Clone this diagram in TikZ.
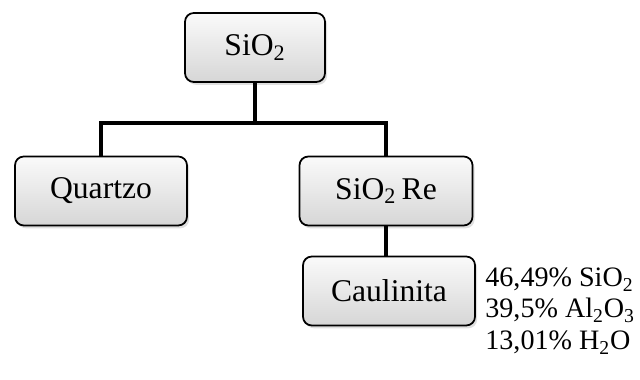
\documentclass[tikz,border=0pt]{standalone}
\usepackage{fontspec}
\setmainfont{Liberation Serif}
\usepackage{tikz}
\usetikzlibrary{positioning,shadows}

\begin{document}
\begin{tikzpicture}[
  box/.style={draw=black,line width=1pt,rectangle,rounded corners=5pt,
    minimum height=1.38cm,align=center,font=\fontsize{18}{22}\selectfont,
    top color=gray!4,bottom color=gray!32,
    drop shadow={shadow xshift=1.2pt,shadow yshift=-1.6pt,opacity=0.25}},
  link/.style={line width=2.3pt,black},
  comp/.style={font=\fontsize{16}{18}\selectfont,anchor=base west,inner sep=0pt}
  ]
\useasboundingbox (0,0) rectangle (12.8,7.6);

% Boxes, top to bottom
\node[box,minimum width=2.8cm]  (sio2)  at (5.1,6.65) {SiO\textsubscript{2}};

\node[box,minimum width=3.44cm] (quartzo) at (2.02,3.78) {Quartzo};

\node[box,minimum width=3.46cm] (sio2re) at (7.72,3.78) {SiO\textsubscript{2}\,Re};

\node[box,minimum width=3.44cm] (caulinita) at (7.78,1.78) {Caulinita};

% Tree connectors
\coordinate (bar) at (0,5.14);
\draw[link] (sio2.south) -- (sio2.south |- bar);
\draw[link] (quartzo.north) |- (sio2.south |- bar) -| (sio2re.north);
\draw[link] (sio2re.south) -- (sio2re.south |- caulinita.north);

% Composition of caulinita
\node[comp] (comp1) at (9.7,1.86) {46,49\% SiO\textsubscript{2}};
\node[comp] (comp2) at (9.7,1.24) {39,5\% Al\textsubscript{2}O\textsubscript{3}};
\node[comp] (comp3) at (9.7,0.60) {13,01\% H\textsubscript{2}O};

\end{tikzpicture}
\end{document}
